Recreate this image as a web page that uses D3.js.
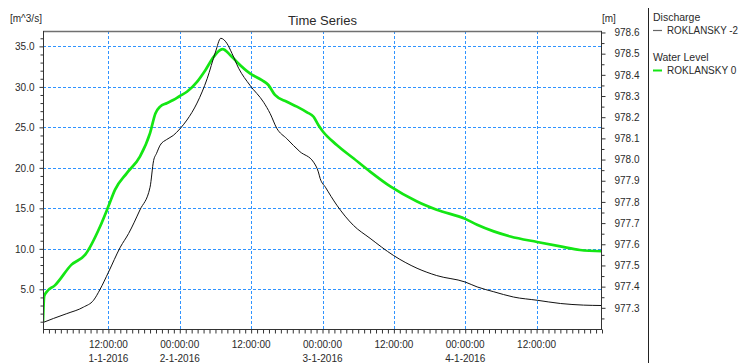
<!DOCTYPE html>
<html>
<head>
<meta charset="utf-8">
<script src="https://cdn.jsdelivr.net/npm/d3@7"></script>
<style>
  html, body { margin: 0; padding: 0; background: #fff; }
  svg { display: block; font-family: "Liberation Sans", Arial, sans-serif; }
</style>
</head>
<body>
<svg id="chart" width="740" height="363"></svg>
<script>
// ---------------- data ----------------
const startDate = "2016-01-01T00:00";          // reference for hour offsets
const domainHours = [1, 95];                    // x-axis span (hours after start)

const dischargeHours = [1.0, 2.75, 5.0, 7.8, 9.5, 10.6, 12.0, 14.0, 15.4, 17.3, 19.0, 19.6, 20.1, 20.7,
  21.8, 22.9, 24.0, 25.2, 26.9, 28.6, 30.0, 30.9, 31.9, 32.8, 33.9, 35.8, 38.1, 39.2, 40.3, 42.0,
  44.2, 46.5, 47.3, 47.6, 48.5, 50.4, 53.2, 56.0, 59.9, 63.9, 67.2, 72.0, 74.0, 76.8, 80.1, 84.1,
  88.0, 91.9, 95.0];
const dischargeValues = [0.9, 1.4, 2.0, 2.8, 3.65, 5.0, 7.1, 10.2, 11.9, 14.8, 17.6, 20.9, 21.8, 22.8,
  23.5, 24.0, 24.8, 25.9, 28.0, 31.0, 34.3, 36.0, 35.4, 34.1, 32.3, 30.2, 28.1, 26.7, 24.9, 23.6,
  22.0, 20.7, 19.5, 18.7, 17.6, 15.4, 12.9, 11.3, 9.2, 7.6, 6.7, 5.9, 5.3, 4.7, 4.05, 3.65,
  3.25, 3.05, 3.0];

const levelHours = [1.0, 1.2, 1.6, 3.0, 5.8, 8.1, 10.6, 12.0, 13.1, 15.1, 17.3, 19.0, 19.9, 20.7, 21.8,
  22.9, 24.0, 25.2, 26.9, 28.3, 29.7, 30.8, 31.2, 32.5, 33.6, 35.8, 37.8, 38.9, 40.0, 42.0, 43.7,
  45.4, 46.5, 47.3, 48.0, 50.4, 53.2, 56.0, 59.4, 63.9, 67.2, 72.0, 74.0, 76.8, 79.6, 84.1, 88.0,
  91.3, 95.0];
const levelValues = [977.234, 977.355, 977.375, 977.406, 977.504, 977.551, 977.684, 977.779, 977.857,
  977.936, 978.014, 978.125, 978.218, 978.250, 978.266, 978.281, 978.300, 978.320, 978.367, 978.422,
  978.485, 978.517, 978.521, 978.493, 978.461, 978.407, 978.375, 978.352, 978.305, 978.273, 978.250,
  978.223, 978.202, 978.163, 978.135, 978.069, 978.006, 977.943, 977.873, 977.802, 977.763, 977.720,
  977.692, 977.661, 977.637, 977.611, 977.590, 977.573, 977.567];

const leftMajorTicks = [5, 10, 15, 20, 25, 30, 35];
const rightMajorTicks = [977.3, 977.4, 977.5, 977.6, 977.7, 977.8, 977.9, 978.0, 978.1, 978.2, 978.3, 978.4, 978.5, 978.6];
const labelHours = [12, 24, 36, 48, 60, 72, 84];

const titleText = "Time Series";
const leftUnit = "[m^3/s]";
const rightUnit = "[m]";
const legendGroups = [
  { heading: "Discharge", item: "ROKLANSKY -2" },
  { heading: "Water Level", item: "ROKLANSKY 0" }
];

// ---------------- layout ----------------
const L = 43, R = 602, T = 31, B = 329;
const svg = d3.select("#chart");
const t0 = new Date(startDate);
const hourToDate = h => d3.timeMinute.offset(t0, Math.round(h * 60));

const x = d3.scaleTime().domain(domainHours.map(hourToDate)).range([L, R]);
const yL = d3.scaleLinear().domain([0.1, 36.9]).range([B, T]);
const yR = d3.scaleLinear().domain([977.2, 978.607]).range([B, T]);

const gridColor = "#2f93ff";
const textColor = "#2a2a2a";

// gridlines
const grid = svg.append("g");
grid.selectAll("line.h").data(leftMajorTicks).join("line")
  .attr("x1", L).attr("x2", R)
  .attr("y1", d => Math.round(yL(d)) + 0.5).attr("y2", d => Math.round(yL(d)) + 0.5)
  .attr("stroke", gridColor).attr("stroke-width", 1).attr("stroke-dasharray", "3,2");
grid.selectAll("line.v").data(labelHours).join("line")
  .attr("x1", d => Math.round(x(hourToDate(d))) + 0.5).attr("x2", d => Math.round(x(hourToDate(d))) + 0.5)
  .attr("y1", T).attr("y2", B)
  .attr("stroke", gridColor).attr("stroke-width", 1).attr("stroke-dasharray", "3,2");

// clip
svg.append("clipPath").attr("id", "clip").append("rect")
  .attr("x", L).attr("y", T).attr("width", R - L).attr("height", B - T);

const levelData = levelHours.map((h, i) => ({ d: hourToDate(h), v: levelValues[i] }));
const dischargeData = dischargeHours.map((h, i) => ({ d: hourToDate(h), v: dischargeValues[i] }));

svg.append("path").datum(levelData)
  .attr("clip-path", "url(#clip)")
  .attr("fill", "none").attr("stroke", "#14e614").attr("stroke-width", 2.7)
  .attr("stroke-linejoin", "round")
  .attr("d", d3.line().x(p => x(p.d)).y(p => yR(p.v)).curve(d3.curveMonotoneX));

svg.append("path").datum(dischargeData)
  .attr("clip-path", "url(#clip)")
  .attr("fill", "none").attr("stroke", "#111").attr("stroke-width", 1)
  .attr("d", d3.line().x(p => x(p.d)).y(p => yL(p.v)).curve(d3.curveMonotoneX));

// frame top
svg.append("line").attr("x1", L).attr("x2", R).attr("y1", T + 0.5).attr("y2", T + 0.5)
  .attr("stroke", "#707070").attr("stroke-width", 1.5);

// left axis
const leftMinor = d3.range(1, 37).filter(v => v % 5 !== 0);
const axL = svg.append("g").attr("transform", `translate(${L + 0.5},0)`);
axL.call(d3.axisLeft(yL).tickValues(leftMinor).tickSize(3).tickFormat(""));
axL.append("g").call(d3.axisLeft(yL).tickValues(leftMajorTicks).tickSize(4).tickPadding(5).tickFormat(d3.format(".1f")));

// right axis
const rightMinor = d3.range(0, 28).map(i => +(977.25 + i * 0.05).toFixed(2))
  .filter(v => !rightMajorTicks.some(m => Math.abs(m - v) < 1e-6) && v <= 978.6);
const axR = svg.append("g").attr("transform", `translate(${R - 0.5},0)`);
axR.call(d3.axisRight(yR).tickValues(rightMinor).tickSize(3).tickFormat(""));
axR.append("g").call(d3.axisRight(yR).tickValues(rightMajorTicks).tickSize(4).tickPadding(9).tickFormat(d3.format(".1f")));

// bottom axis
const axB = svg.append("g").attr("transform", `translate(0,${B + 0.5})`);
axB.call(d3.axisBottom(x).ticks(d3.timeHour.every(1)).tickSize(4).tickFormat(""));
const fmtTime = d3.timeFormat("%H:%M:%S");
const fmtDate = d3.timeFormat("%-d-%-m-%Y");
const labs = axB.append("g").selectAll("text").data(labelHours).join("text")
  .attr("x", d => x(hourToDate(d)))
  .attr("text-anchor", "middle").attr("fill", textColor).attr("font-size", 10);
labs.append("tspan").attr("x", d => x(hourToDate(d))).attr("y", 18)
  .text(d => fmtTime(hourToDate(d)));
labs.append("tspan").attr("x", d => x(hourToDate(d))).attr("y", 32)
  .text((d, i) => (i === 0 || hourToDate(d).getHours() === 0) ? fmtDate(hourToDate(d)) : "");

[axL, axR, axB].forEach(g => {
  g.selectAll(".domain").attr("stroke", "#333");
  g.selectAll(".tick line").attr("stroke", "#333");
  g.selectAll(".tick text").attr("fill", textColor).attr("font-size", 10)
    .attr("font-family", "'Liberation Sans', Arial, sans-serif");
});
axL.selectAll(".domain").attr("d", `M0,${T}V${B}`);
axR.selectAll(".domain").attr("d", `M0,${T}V${B}`);
axB.selectAll(".domain").attr("d", `M${L},0H${R}`);

// title & units
svg.append("text").attr("x", (L + R) / 2).attr("y", 25).attr("text-anchor", "middle")
  .attr("font-size", 13).attr("fill", textColor).text(titleText);
svg.append("text").attr("x", 10).attr("y", 22).attr("font-size", 10).attr("fill", textColor).text(leftUnit);
svg.append("text").attr("x", 602).attr("y", 22).attr("font-size", 10).attr("fill", textColor).text(rightUnit);

// legend
svg.append("line").attr("x1", 648.5).attr("x2", 648.5).attr("y1", 8).attr("y2", 363)
  .attr("stroke", "#222").attr("stroke-width", 1);
const legColors = ["#666", "#14e614"];
const leg = svg.append("g");
legendGroups.forEach((g, i) => {
  const y0 = 21 + i * 40;
  leg.append("text").attr("x", 653).attr("y", y0).attr("font-size", 10.5).attr("fill", textColor).text(g.heading);
  leg.append("line").attr("x1", 653).attr("x2", 662).attr("y1", y0 + 9.5).attr("y2", y0 + 9.5)
    .attr("stroke", legColors[i]).attr("stroke-width", i === 0 ? 1.2 : 2);
  const it = leg.append("text").attr("x", 667).attr("y", y0 + 13).attr("font-size", 10).attr("fill", textColor).text(g.item);
  if (it.node().getComputedTextLength() > 71) {
    it.attr("textLength", 71).attr("lengthAdjust", "spacingAndGlyphs");
  }
});
</script>
</body>
</html>
